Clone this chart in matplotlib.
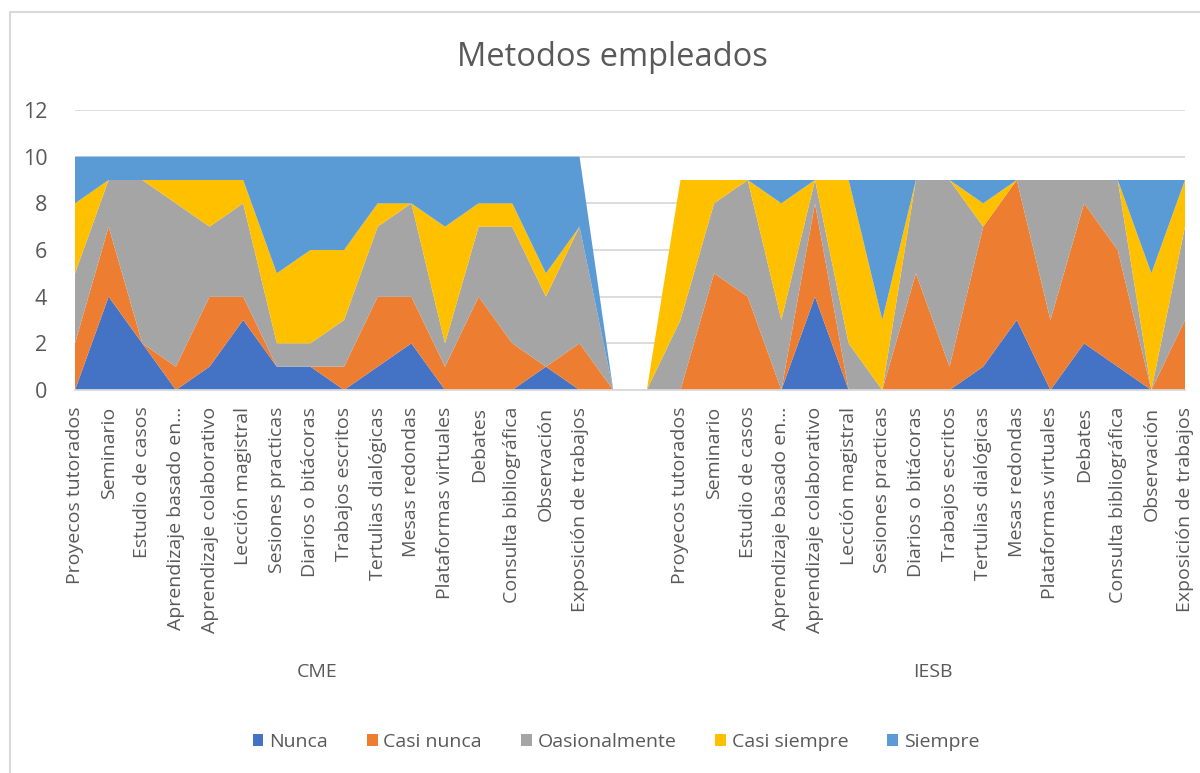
import numpy as np
import matplotlib
matplotlib.use("Agg")
import matplotlib.pyplot as plt
import matplotlib.transforms as mtransforms
from matplotlib.patches import Rectangle

plt.rcParams['font.family'] = ['Open Sans', 'DejaVu Sans']

categorias = [
    "Proyecos tutorados", "Seminario", "Estudio de casos", "Aprendizaje basado en…",
    "Aprendizaje colaborativo", "Lección magistral", "Sesiones practicas",
    "Diarios o bitácoras", "Trabajos escritos", "Tertulias dialógicas",
    "Mesas redondas", "Plataformas virtuales", "Debates", "Consulta bibliográfica",
    "Observación", "Exposición de trabajos",
]
grupos = ["CME", "IESB"]
niveles = ["Nunca", "Casi nunca", "Oasionalmente", "Casi siempre", "Siempre"]
colores = ["#4472C4", "#ED7D31", "#A5A5A5", "#FFC000", "#5B9BD5"]

cme_nunca = [0, 4, 2, 0, 1, 3, 1, 1, 0, 1, 2, 0, 0, 0, 1, 0]
cme_casi_nunca = [2, 3, 0, 1, 3, 1, 0, 0, 1, 3, 2, 1, 4, 2, 0, 2]
cme_ocasional = [3, 2, 7, 7, 3, 4, 1, 1, 2, 3, 4, 1, 3, 5, 3, 5]
cme_casi_siempre = [3, 0, 0, 1, 2, 1, 3, 4, 3, 1, 0, 5, 1, 1, 1, 0]
cme_siempre = [2, 1, 1, 1, 1, 1, 5, 4, 4, 2, 2, 3, 2, 2, 5, 3]

iesb_nunca = [0, 0, 0, 0, 4, 0, 0, 0, 0, 1, 3, 0, 2, 1, 0, 0]
iesb_casi_nunca = [0, 5, 4, 0, 4, 0, 0, 5, 1, 6, 6, 3, 6, 5, 0, 3]
iesb_ocasional = [3, 3, 5, 3, 1, 2, 0, 4, 8, 0, 0, 6, 1, 3, 0, 4]
iesb_casi_siempre = [6, 1, 0, 5, 0, 7, 3, 0, 0, 1, 0, 0, 0, 0, 5, 2]
iesb_siempre = [0, 0, 0, 1, 0, 0, 6, 0, 0, 1, 0, 0, 0, 0, 4, 0]

# two empty categories separate the groups, like the blank rows in the sheet
N_GAP = 2


def unir(a, b):
    return list(a) + [0] * N_GAP + list(b)


series = [
    unir(cme_nunca, iesb_nunca),
    unir(cme_casi_nunca, iesb_casi_nunca),
    unir(cme_ocasional, iesb_ocasional),
    unir(cme_casi_siempre, iesb_casi_siempre),
    unir(cme_siempre, iesb_siempre),
]
etiquetas = categorias + [""] * N_GAP + categorias
x = np.arange(len(etiquetas))

C_TEXT = '#595959'
C_GRID = '#D9D9D9'

fig = plt.figure(figsize=(12, 7.73), dpi=100)
ax = fig.add_axes([75 / 1200, 1 - 390 / 773, 1110 / 1200, 280 / 773])

ax.stackplot(x, *series, colors=colores, labels=niveles, linewidth=0, zorder=2)
ax.set_xlim(x[0], x[-1])
ax.set_ylim(0, 12)
ax.set_yticks(range(0, 13, 2))
ax.grid(axis='y', color=C_GRID, linewidth=1.3, zorder=0)
ax.set_axisbelow(True)
for s in ['top', 'right', 'left']:
    ax.spines[s].set_visible(False)
ax.spines['bottom'].set_color(C_GRID)
ax.spines['bottom'].set_linewidth(1.3)

ax.set_xticks(x)
ax.set_xticklabels(etiquetas, rotation=90, fontsize=14, color=C_TEXT)
ax.tick_params(axis='x', length=0, pad=12)
ax.tick_params(axis='y', length=0, pad=20, labelsize=15.5, labelcolor=C_TEXT)

# group labels under each block of categories
trans = mtransforms.blended_transform_factory(ax.transData, fig.transFigure)
n = len(categorias)
centros = [(n - 1) / 2 - 0.3, n + N_GAP + (n - 1) / 2]
for g, cx in zip(grupos, centros):
    ax.text(cx, 1 - 672 / 773, g, transform=trans, ha='center', va='center',
            fontsize=14, color=C_TEXT)

fig.text(612 / 1200, 1 - 57 / 773, "Metodos empleados", ha='center', va='center',
         fontsize=23.5, color=C_TEXT)

fig.legend(loc='center', bbox_to_anchor=(616 / 1200, 1 - 742 / 773), ncol=5,
           frameon=False, fontsize=14, handlelength=0.55, handleheight=0.55,
           handletextpad=0.3, columnspacing=2.0, labelcolor=C_TEXT)

# chart area border (cut by the image on the right and bottom)
fig.add_artist(Rectangle((10 / 1200, -0.05), 1.2, 1 - 12.5 / 773 + 0.05,
                         transform=fig.transFigure, fill=False,
                         edgecolor=C_GRID, linewidth=1.5))

fig.savefig("out.png", dpi=100, facecolor='white')
